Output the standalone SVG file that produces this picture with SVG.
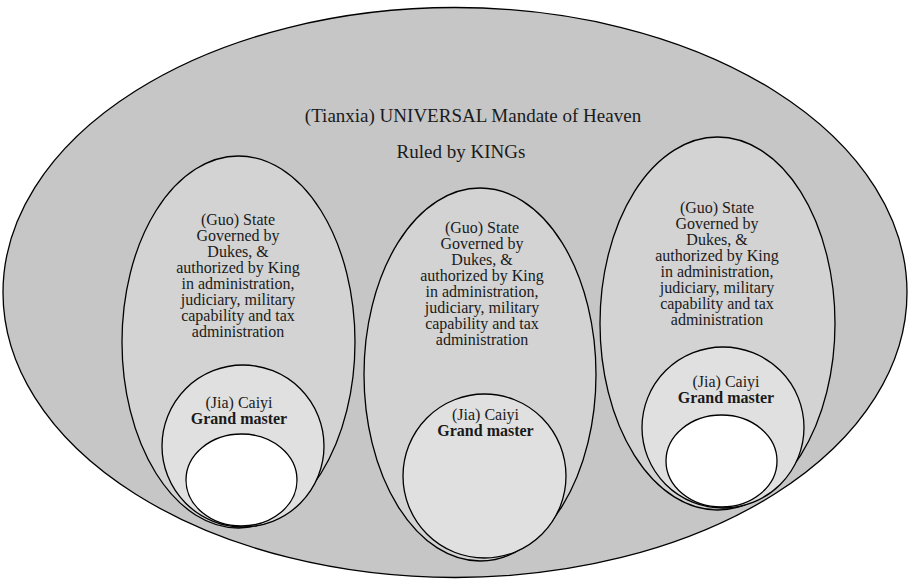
<svg xmlns="http://www.w3.org/2000/svg" width="909" height="580" viewBox="0 0 909 580" font-family="Liberation Serif, DejaVu Serif, serif">
<style>
  .e { stroke: #000; stroke-width: 1.3; }
  .outer { fill: #c6c6c6; }
  .state { fill: #d3d3d3; }
  .jia { fill: #e0e0e0; }
  .core { fill: #ffffff; }
  text { fill: #1a1a1a; text-anchor: middle; }
  .t { font-size: 19px; }
  .s { font-size: 16px; }
  .b { font-size: 16px; font-weight: bold; }
</style>
<rect width="909" height="580" fill="#ffffff"/>
<g id="tianxia">
  <ellipse class="e outer" cx="455" cy="292.5" rx="452" ry="285"/>
  <text class="t" x="473" y="122">(Tianxia) UNIVERSAL Mandate of Heaven</text>
  <text class="t" x="461" y="158">Ruled by KINGs</text>
</g>
<g id="guo-left">
  <ellipse class="e state" cx="238.5" cy="342" rx="116.5" ry="186"/>
  <text class="s" x="238" y="225">(Guo) State</text>
  <text class="s" x="238" y="241">Governed by</text>
  <text class="s" x="238" y="257">Dukes, &amp;</text>
  <text class="s" x="238" y="273">authorized by King</text>
  <text class="s" x="238" y="289">in administration,</text>
  <text class="s" x="238" y="305">judiciary, military</text>
  <text class="s" x="238" y="321">capability and tax</text>
  <text class="s" x="238" y="337">administration</text>
</g>
<g id="jia-left">
  <ellipse class="e jia" cx="243" cy="446" rx="81" ry="81"/>
  <text class="s" x="239" y="408">(Jia) Caiyi</text>
  <text class="b" x="239" y="424">Grand master</text>
  <ellipse class="e core" cx="241.5" cy="480" rx="55.5" ry="46"/>
</g>
<g id="guo-middle">
  <ellipse class="e state" cx="480" cy="374.5" rx="116" ry="186.5"/>
  <text class="s" x="482" y="233">(Guo) State</text>
  <text class="s" x="482" y="249">Governed by</text>
  <text class="s" x="482" y="265">Dukes, &amp;</text>
  <text class="s" x="482" y="281">authorized by King</text>
  <text class="s" x="482" y="297">in administration,</text>
  <text class="s" x="482" y="313">judiciary, military</text>
  <text class="s" x="482" y="329">capability and tax</text>
  <text class="s" x="482" y="345">administration</text>
</g>
<g id="jia-middle">
  <ellipse class="e jia" cx="484.5" cy="476" rx="81.5" ry="82"/>
  <text class="s" x="485.5" y="420">(Jia) Caiyi</text>
  <text class="b" x="485.5" y="436">Grand master</text>
</g>
<g id="guo-right">
  <ellipse class="e state" cx="717.5" cy="323.5" rx="117.5" ry="186.5"/>
  <text class="s" x="717" y="213">(Guo) State</text>
  <text class="s" x="717" y="229">Governed by</text>
  <text class="s" x="717" y="245">Dukes, &amp;</text>
  <text class="s" x="717" y="261">authorized by King</text>
  <text class="s" x="717" y="277">in administration,</text>
  <text class="s" x="717" y="293">judiciary, military</text>
  <text class="s" x="717" y="309">capability and tax</text>
  <text class="s" x="717" y="325">administration</text>
</g>
<g id="jia-right">
  <ellipse class="e jia" cx="723" cy="427.5" rx="81" ry="80.5"/>
  <text class="s" x="726" y="387">(Jia) Caiyi</text>
  <text class="b" x="726" y="403">Grand master</text>
  <ellipse class="e core" cx="721.5" cy="461" rx="55.5" ry="46"/>
</g>
<g id="connectors"/>
</svg>
